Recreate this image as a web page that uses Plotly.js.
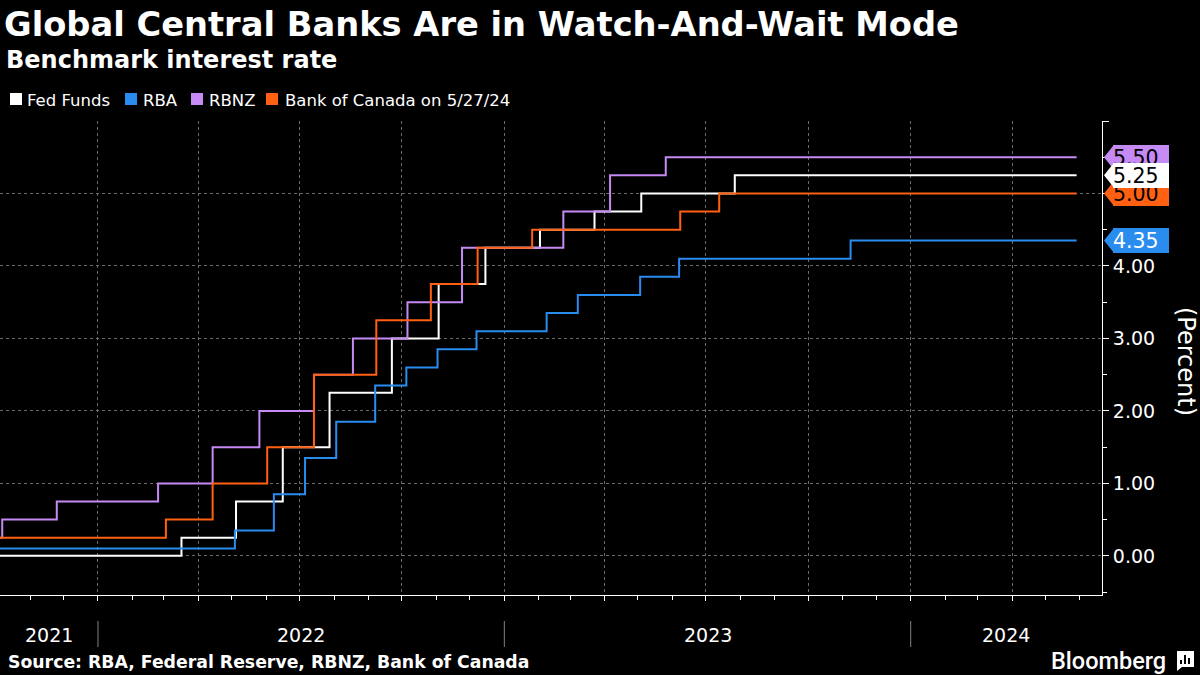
<!DOCTYPE html>
<html><head><meta charset="utf-8">
<script src="https://cdn.plot.ly/plotly-3.0.1.min.js"></script>
<style>html,body{margin:0;padding:0;background:#000;} #chart{width:1200px;height:675px;}</style>
</head><body><div id="chart"></div>
<script>
// ---------------- DATA ----------------
const fedDates = ['2021-10-05','2022-03-17','2022-05-05','2022-06-16','2022-07-28','2022-09-22','2022-11-03','2022-12-15','2023-02-02','2023-03-23','2023-05-04','2023-07-27','2024-05-29'];
const fedRates = [0.00,0.25,0.75,1.50,2.25,3.00,3.75,4.25,4.50,4.75,5.00,5.25,5.25];

const rbaDates = ['2021-10-05','2022-05-04','2022-06-08','2022-07-06','2022-08-03','2022-09-07','2022-10-05','2022-11-02','2022-12-07','2023-02-08','2023-03-08','2023-05-03','2023-06-07','2023-11-08','2024-05-29'];
const rbaRates = [0.10,0.35,0.85,1.35,1.85,2.35,2.60,2.85,3.10,3.35,3.60,3.85,4.10,4.35,4.35];

const rbnzDates = ['2021-10-05','2021-10-07','2021-11-25','2022-02-24','2022-04-14','2022-05-26','2022-07-14','2022-08-18','2022-10-06','2022-11-24','2023-02-23','2023-04-06','2023-05-26','2024-05-29'];
const rbnzRates = [0.25,0.50,0.75,1.00,1.50,2.00,2.50,3.00,3.50,4.25,4.75,5.25,5.50,5.50];

const bocDates = ['2021-10-05','2022-03-03','2022-04-14','2022-06-02','2022-07-14','2022-09-08','2022-10-27','2022-12-08','2023-01-26','2023-06-08','2023-07-13','2024-05-29'];
const bocRates = [0.25,0.50,1.00,1.50,2.50,3.25,3.75,4.25,4.50,4.75,5.00,5.00];

const seriesNames = ['Fed Funds','RBA','RBNZ','Bank of Canada on 5/27/24'];
const yearLabels = ['2021','2022','2023','2024'];
const yTickVals = [0,1,2,3,4,5,6];
const yTickText = ['0.00','1.00','2.00','3.00','4.00','',''];

// ---------------- LAYOUT HELPERS ----------------
const W=1200,H=675,ML=0,MR=98,MT=121,MB=80;
const PW=W-ML-MR, PH=H-MT-MB;
const px = x => (x-ML)/PW;
const py = y => (H-MB-y)/PH;
const yRange=[-0.54,6.0];
const xRange=['2021-10-05','2024-06-20 20:00'];
const unitPx = PH/(yRange[1]-yRange[0]);
const FONT='DejaVu Sans';

const series = [
  {name:seriesNames[0], x:fedDates,  y:fedRates,  color:'#ffffff', tagText:'#000000'},
  {name:seriesNames[1], x:rbaDates,  y:rbaRates,  color:'#2b8cf0', tagText:'#ffffff'},
  {name:seriesNames[2], x:rbnzDates, y:rbnzRates, color:'#c68af4', tagText:'#000000'},
  {name:seriesNames[3], x:bocDates,  y:bocRates,  color:'#ff6011', tagText:'#000000'}
];

const traces = series.map(s => ({
  type:'scatter', mode:'lines', name:s.name, x:s.x, y:s.y,
  line:{color:s.color, width:2, shape:'hv'}, showlegend:false, hoverinfo:'skip'
}));

const shapes = [];
const annotations = [];

// value tags (RBNZ, BoC, RBA, Fed on top)
const tagOrder = [2,3,1,0];
const h = 12.5/unitPx;
tagOrder.forEach(i => {
  const s = series[i];
  const v = s.y[s.y.length-1];
  shapes.push({type:'path', xref:'paper', yref:'y', layer:'above',
    path:`M ${px(1104)},${v} L ${px(1114)},${v+h} L ${px(1114)},${v-h} Z`,
    fillcolor:s.color, line:{width:0}});
  annotations.push({xref:'paper', yref:'y', x:px(1113), y:v, xanchor:'left', yanchor:'middle',
    text:v.toFixed(2), showarrow:false, bgcolor:s.color, borderpad:0, borderwidth:0,
    width:56, height:25, align:'left', font:{family:FONT, size:20.5, color:s.tagText}});
});

// legend
const legBox = [10,125,191,266];
const legText = [25,141,207,283];
series.forEach((s,i) => {
  shapes.push({type:'rect', xref:'paper', yref:'paper', x0:px(legBox[i]), x1:px(legBox[i]+12),
    y0:py(105), y1:py(93), fillcolor:s.color, line:{width:0}});
  annotations.push({xref:'paper', yref:'paper', x:px(legText[i]), y:py(100), xanchor:'left', yanchor:'middle',
    text:s.name, showarrow:false, font:{family:FONT, size:16.5, color:'#ffffff'}});
});

// year dividers and labels
const t0 = Date.parse(xRange[0].replace(' ','T')+'Z'), t1 = Date.parse(xRange[1].replace(' ','T')+'Z');
const iso = ms => new Date(ms).toISOString().slice(0,19).replace('T',' ');
yearLabels.forEach((yr,i) => {
  const a = Math.max(t0, Date.parse(yr+'-01-01T00:00:00Z'));
  const b = Math.min(t1, Date.parse((+yr+1)+'-01-01T00:00:00Z'));
  if (i>0) shapes.push({type:'line', xref:'x', yref:'paper', x0:yr+'-01-01', x1:yr+'-01-01',
    y0:py(647), y1:py(621), line:{color:'#808080', width:1}});
  annotations.push({xref:'x', yref:'paper', x:iso((a+b)/2), y:py(635), xanchor:'center', yanchor:'middle',
    text:yr, showarrow:false, font:{family:FONT, size:19, color:'#ffffff'}});
});

// axis title, subtitle, source, logo
annotations.push({xref:'paper', yref:'paper', x:px(1186), y:py(361), xanchor:'center', yanchor:'middle',
  text:'(Percent)', textangle:90, showarrow:false, font:{family:FONT, size:24, color:'#ffffff'}});
annotations.push({xref:'paper', yref:'paper', x:px(4), y:py(60), xanchor:'left', yanchor:'middle',
  text:'Benchmark interest rate', showarrow:false, font:{family:FONT, size:24, weight:700, color:'#ffffff'}});
annotations.push({xref:'paper', yref:'paper', x:px(6), y:py(662), xanchor:'left', yanchor:'middle',
  text:'Source: RBA, Federal Reserve, RBNZ, Bank of Canada', showarrow:false, font:{family:FONT, size:17.3, weight:700, color:'#ffffff'}});
annotations.push({xref:'paper', yref:'paper', x:px(1168), y:py(661), xanchor:'right', yanchor:'middle',
  text:'Bloomberg', showarrow:false, font:{family:'Roboto', size:23.5, weight:500, color:'#ffffff'}});
// logo icon
shapes.push({type:'path', xref:'paper', yref:'paper',
  path:`M ${px(1177)},${py(651)} L ${px(1194)},${py(651)} L ${px(1194)},${py(667)} L ${px(1182)},${py(667)} L ${px(1177)},${py(671)} Z`,
  fillcolor:'#ffffff', line:{width:0}});
[[1180,1182,660],[1184,1186,655],[1188,1190,658]].forEach(b => shapes.push({type:'rect', xref:'paper', yref:'paper',
  x0:px(b[0]), x1:px(b[1]), y0:py(664), y1:py(b[2]), fillcolor:'#000000', line:{width:0}}));

const layout = {
  width:W, height:H, margin:{l:ML, r:MR, t:MT, b:MB, pad:0},
  paper_bgcolor:'#000000', plot_bgcolor:'#000000',
  title:{text:'Global Central Banks Are in Watch-And-Wait Mode', xref:'container', yref:'container',
    x:4/W, xanchor:'left', y:1-24/H, yanchor:'middle', font:{family:FONT, size:33.7, weight:700, color:'#ffffff'}},
  xaxis:{type:'date', range:xRange, showline:true, linecolor:'#ffffff', linewidth:1,
    ticks:'outside', tickcolor:'#ffffff', ticklen:5, dtick:'M3', tick0:'2022-01-01', showticklabels:false,
    showgrid:true, gridcolor:'#6a6a6a', griddash:'dot', gridwidth:1, zeroline:false,
    minor:{dtick:'M1', tick0:'2022-01-01', ticks:'outside', ticklen:4, tickcolor:'#ffffff', showgrid:false}},
  yaxis:{side:'right', range:yRange, tickmode:'array', tickvals:yTickVals, ticktext:yTickText,
    showline:true, linecolor:'#ffffff', linewidth:1, ticks:'outside', ticklen:6, tickcolor:'#ffffff',
    showgrid:true, gridcolor:'#6a6a6a', griddash:'dot', gridwidth:1, zeroline:false,
    tickfont:{family:FONT, size:19, color:'#ffffff'},
    minor:{dtick:0.5, tick0:0, ticks:'outside', ticklen:4, tickcolor:'#ffffff', showgrid:false}},
  shapes:shapes, annotations:annotations, showlegend:false
};

Plotly.newPlot('chart', traces, layout, {displayModeBar:false, staticPlot:true});
</script></body></html>
